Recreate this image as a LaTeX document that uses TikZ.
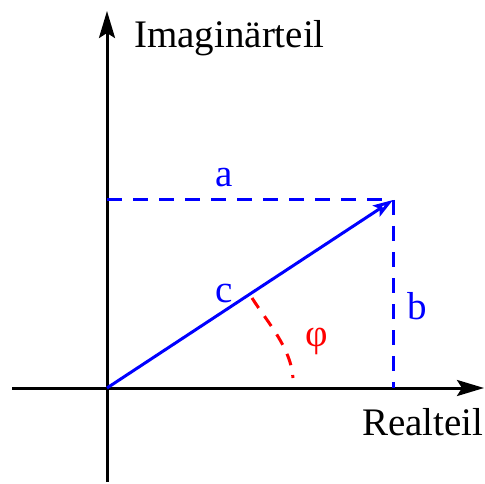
\documentclass[tikz,border=0pt]{standalone}
\usepackage{fontspec}
\setmainfont{Liberation Serif}
\usetikzlibrary{arrows.meta}
\definecolor{zblue}{HTML}{0000FF}
\definecolor{zred}{HTML}{FF0000}
\tikzset{
  axis/.style={line width=3pt, -{Stealth[length=27pt, width=16pt, inset=5pt]}},
  vec/.style={line width=3pt, color=zblue, -{Stealth[open, length=20pt, width=13pt, inset=4pt, line width=3pt]}},
  helper/.style={line width=3pt, color=zblue, dash pattern=on 15pt off 11pt},
  angl/.style={line width=3pt, color=zred, dash pattern=on 12pt off 10pt},
  lbl/.style={inner sep=0pt, anchor=base west},
}
\begin{document}
\begin{tikzpicture}[x=1pt, y=-1pt, font=\fontsize{39}{47}\selectfont]
  \useasboundingbox (0,0) rectangle (485,484);
  \coordinate (O) at (107,388);
  \coordinate (P) at (393,200);
  \coordinate (A) at (107,200);
  \coordinate (B) at (393,388);
  \coordinate (xs) at (12,388);
  \coordinate (xe) at (484,388);
  \coordinate (ys) at (107,482);
  \coordinate (ye) at (107,11);
  % axes
  \draw[axis] (xs) -- (xe);
  \draw[axis] (ys) -- (ye);
  % components and vector
  \draw[helper] (A) -- (P);
  \draw[helper] (P) -- (B);
  \draw[vec] (O) -- (P);
  \draw[angl] (252,298) .. controls (268,323) and (291,348) .. (293,378);
  % labels
  \node[lbl] (im) at (134,48) {Imaginärteil};
  \node[lbl] (re) at (362,435) {Realteil};
  \node[lbl, text=zblue] (la) at (215,186) {a};
  \node[lbl, text=zblue] (lb) at (407,319) {b};
  \node[lbl, text=zblue] (lc) at (215,302) {c};
  \node[lbl, text=zred] (lphi) at (305,346) {φ};
\end{tikzpicture}
\end{document}
